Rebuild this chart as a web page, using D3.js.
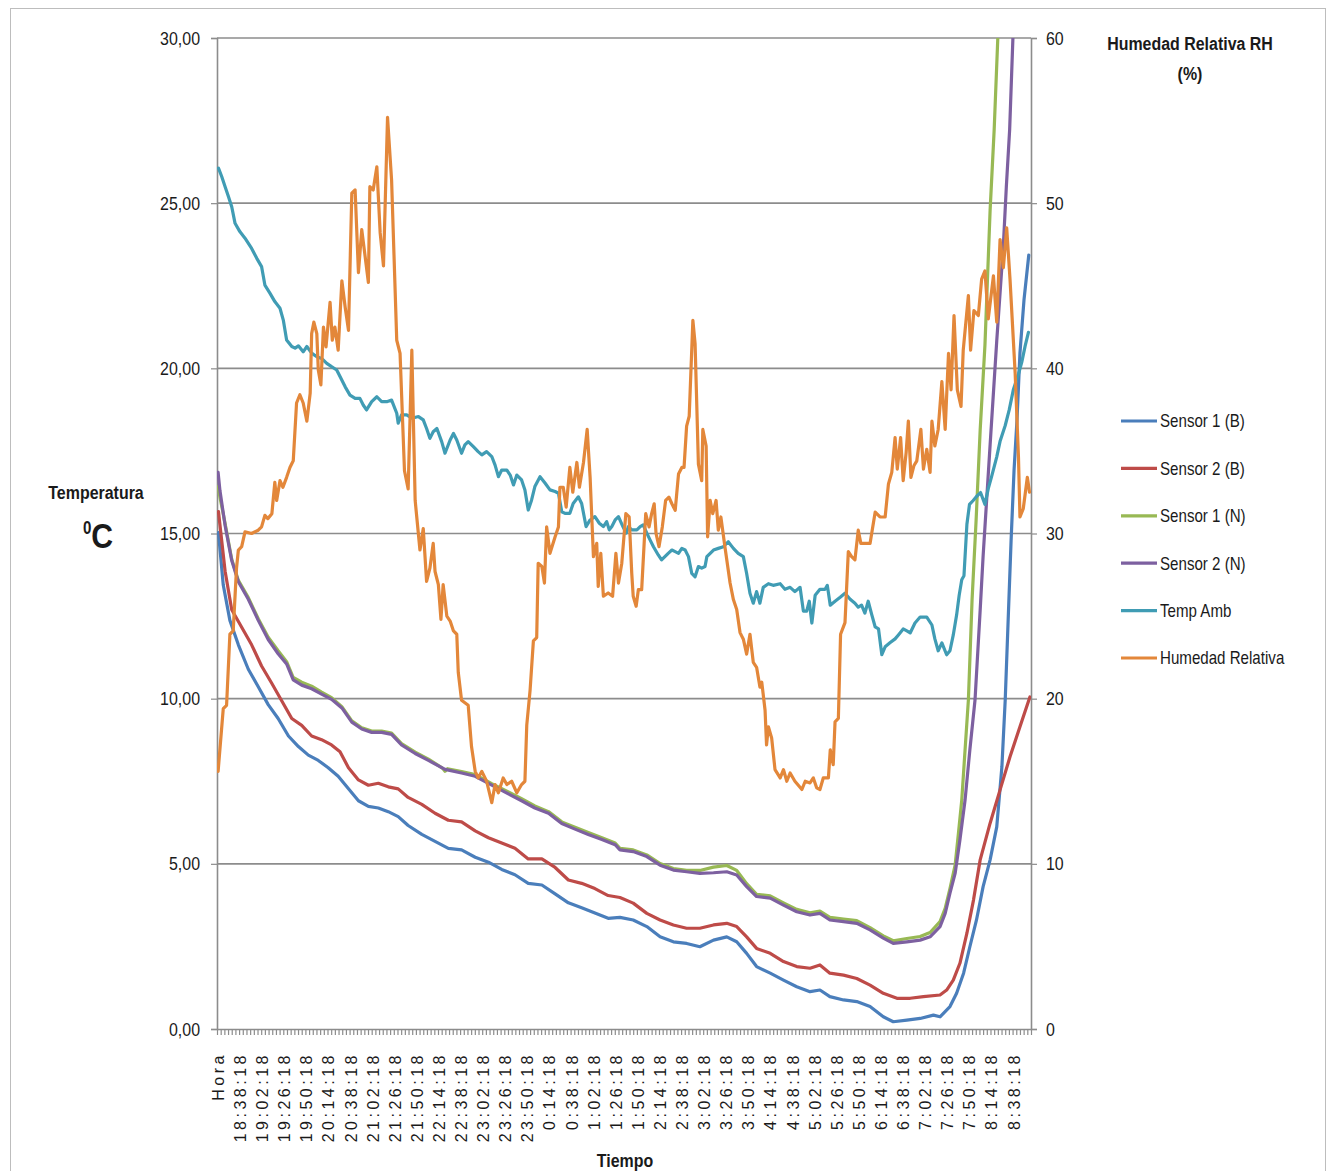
<!DOCTYPE html>
<html>
<head>
<meta charset="utf-8">
<script src="https://cdn.jsdelivr.net/npm/d3@7"></script>
<style>
  body { margin: 0; background: #ffffff; }
  text { font-family: "Liberation Sans", Arial, sans-serif; fill: #1a1a1a; }
</style>
</head>
<body>
<svg id="chart" width="1331" height="1171"></svg>
<script>
// Readings taken every 4 minutes; slot 0 is the "Hora" header column.
const sampleCount = 222;
const tickLabels = ["Hora","18:38:18","19:02:18","19:26:18","19:50:18","20:14:18","20:38:18","21:02:18",
  "21:26:18","21:50:18","22:14:18","22:38:18","23:02:18","23:26:18","23:50:18","0:14:18","0:38:18",
  "1:02:18","1:26:18","1:50:18","2:14:18","2:38:18","3:02:18","3:26:18","3:50:18","4:14:18","4:38:18",
  "5:02:18","5:26:18","5:50:18","6:14:18","6:38:18","7:02:18","7:26:18","7:50:18","8:14:18","8:38:18"];
const tickEvery = 6;
const tempTicks = [0, 5, 10, 15, 20, 25, 30];
const rhTicks = [0, 10, 20, 30, 40, 50, 60];

// Each series: [sample, value]
const sensor1B = [[0.4,15.03],[1.7,13.44],[3.5,12.37],[5.8,11.63],[8.5,10.89],[11.2,10.36],[13.9,9.82],[16.6,9.40],
  [19.4,8.87],[22.1,8.55],[24.8,8.29],[27.5,8.13],[30.2,7.91],[32.9,7.65],[35.7,7.27],[38.4,6.91],[41.1,6.74],
  [43.8,6.69],[46.5,6.58],[49.2,6.43],[51.9,6.16],[55.6,5.89],[59.2,5.68],[62.8,5.47],[66.4,5.42],[70.1,5.20],
  [73.7,5.05],[77.3,4.83],[80.9,4.67],[84.5,4.41],[88.2,4.36],[91.8,4.09],[95.4,3.82],[99.0,3.67],[102.6,3.51],
  [106.2,3.35],[109.4,3.38],[113.0,3.30],[116.7,3.10],[120.3,2.79],[123.9,2.64],[127.5,2.59],[131.1,2.49],
  [134.8,2.69],[138.4,2.79],[141.1,2.64],[143.8,2.29],[146.5,1.89],[150.2,1.69],[153.8,1.48],[157.4,1.28],
  [161.0,1.13],[163.7,1.18],[166.4,0.98],[170.1,0.88],[173.7,0.83],[177.3,0.68],[180.9,0.37],[183.6,0.22],
  [187.3,0.27],[190.9,0.32],[194.5,0.42],[196.3,0.37],[199.0,0.68],[200.8,1.08],[202.7,1.69],[204.4,2.49],
  [206.2,3.30],[208.0,4.31],[209.9,5.12],[211.7,6.12],[213.1,7.94],[214.0,9.96],[214.8,12.38],[215.6,14.80],
  [216.4,16.92],[217.2,18.44],[218.0,20.46],[219.1,22.07],[220.4,23.43]];

const sensor2B = [[0.4,15.66],[2.2,13.86],[4.0,12.69],[6.7,12.16],[9.4,11.63],[12.1,10.99],[14.9,10.46],[17.6,9.93],
  [20.3,9.40],[23.0,9.19],[25.7,8.87],[28.4,8.76],[31.1,8.60],[33.4,8.39],[35.7,7.91],[38.4,7.54],[41.1,7.38],
  [43.8,7.44],[46.5,7.33],[49.2,7.27],[51.9,7.01],[55.6,6.80],[59.2,6.53],[62.8,6.32],[66.4,6.27],[70.1,6.00],
  [73.7,5.79],[77.3,5.63],[80.9,5.47],[84.5,5.15],[88.2,5.15],[91.8,4.89],[95.4,4.51],[99.0,4.41],[102.6,4.25],
  [106.2,4.04],[109.4,3.98],[113.0,3.81],[116.7,3.50],[120.3,3.30],[123.9,3.15],[127.5,3.05],[131.1,3.05],
  [134.8,3.15],[138.4,3.20],[141.1,3.10],[143.8,2.79],[146.5,2.44],[150.2,2.29],[153.8,2.04],[157.4,1.89],
  [161.0,1.84],[163.7,1.94],[166.4,1.69],[170.1,1.63],[173.7,1.53],[177.3,1.33],[180.9,1.08],[184.6,0.93],
  [188.2,0.93],[191.8,0.98],[196.3,1.03],[198.1,1.18],[199.9,1.48],[201.7,1.99],[203.6,2.90],[205.4,3.91],
  [207.2,5.12],[209.9,6.23],[212.6,7.24],[215.3,8.24],[218.0,9.15],[220.7,10.05]];

const sensor1N = [[0.3,16.42],[0.8,16.10],[2.2,15.30],[4.0,14.22],[5.8,13.58],[8.5,13.06],[11.2,12.42],[13.9,11.86],
  [16.6,11.45],[18.9,11.12],[20.7,10.64],[23.0,10.50],[25.7,10.38],[28.4,10.20],[31.1,10.03],[33.9,9.76],
  [36.6,9.33],[39.3,9.12],[42.0,9.02],[44.7,9.02],[47.4,8.96],[50.1,8.64],[53.8,8.38],[57.4,8.17],[61.2,7.90],
  [61.9,7.80],[62.6,7.88],[66.4,7.79],[70.1,7.70],[74.6,7.43],[79.1,7.18],[82.7,6.97],[86.3,6.75],[90.0,6.58],
  [93.6,6.27],[97.2,6.11],[100.8,5.95],[104.5,5.79],[108.1,5.63],[109.4,5.47],[113.0,5.42],[116.7,5.27],
  [120.3,5.01],[123.9,4.86],[127.5,4.80],[131.1,4.80],[134.8,4.90],[138.4,4.95],[141.1,4.80],[143.8,4.40],
  [146.5,4.08],[150.2,4.03],[153.8,3.82],[157.4,3.62],[161.0,3.52],[163.7,3.57],[166.4,3.38],[170.1,3.33],
  [173.7,3.28],[177.3,3.07],[180.9,2.82],[183.6,2.67],[187.3,2.74],[190.9,2.80],[193.6,2.92],[196.3,3.25],
  [197.7,3.65],[199.0,4.25],[200.4,4.96],[201.3,5.93],[202.2,6.93],[203.1,8.45],[204.0,9.96],[205.0,12.99],
  [206.1,15.41],[207.2,18.13],[208.5,20.71],[209.9,24.79],[211.0,27.22],[212.0,30.03]];

const sensor2N = [[0.3,16.85],[0.8,16.30],[2.2,15.24],[4.0,14.18],[5.8,13.54],[8.5,13.01],[11.2,12.37],[13.9,11.79],
  [16.6,11.36],[18.9,11.05],[20.7,10.57],[23.0,10.41],[25.7,10.30],[28.4,10.14],[31.1,9.98],[33.9,9.72],
  [36.6,9.29],[39.3,9.08],[42.0,8.98],[44.7,8.98],[47.4,8.92],[50.1,8.60],[53.8,8.34],[57.4,8.13],[61.9,7.86],
  [66.4,7.75],[70.1,7.65],[74.6,7.38],[79.1,7.12],[82.7,6.91],[86.3,6.69],[90.0,6.53],[93.6,6.22],[97.2,6.05],
  [100.8,5.89],[104.5,5.74],[108.1,5.58],[109.4,5.42],[113.0,5.37],[116.7,5.22],[120.3,4.96],[123.9,4.81],
  [127.5,4.76],[131.1,4.71],[134.8,4.73],[138.4,4.76],[141.1,4.66],[143.8,4.31],[146.5,4.01],[150.2,3.96],
  [153.8,3.75],[157.4,3.55],[161.0,3.45],[163.7,3.50],[166.4,3.30],[170.1,3.25],[173.7,3.20],[177.3,3.00],
  [180.9,2.75],[183.6,2.59],[187.3,2.64],[190.9,2.69],[193.6,2.79],[196.3,3.10],[197.7,3.50],[199.0,4.11],
  [200.4,4.71],[201.7,5.72],[203.1,6.93],[204.4,8.45],[205.8,9.96],[207.2,12.68],[208.0,14.32],[209.9,17.68],
  [211.7,20.83],[213.5,23.73],[214.3,25.49],[215.2,27.22],[216.1,30.03]];

const tempAmb = [[0.4,26.06],[1.3,25.80],[2.2,25.50],[3.1,25.20],[4.0,24.89],[4.9,24.39],[6.2,24.14],[7.6,23.94],
  [9.4,23.63],[10.8,23.33],[12.1,23.08],[13.0,22.52],[14.4,22.27],[15.7,22.02],[17.1,21.82],[18.0,21.46],
  [18.9,20.86],[20.3,20.66],[21.2,20.61],[22.1,20.68],[23.4,20.50],[24.4,20.66],[25.7,20.46],[27.1,20.35],
  [28.4,20.30],[29.8,20.15],[31.1,20.05],[32.5,19.95],[33.4,19.75],[34.8,19.44],[36.1,19.19],[37.5,19.09],
  [38.8,19.09],[39.7,18.89],[40.6,18.74],[42.0,18.99],[43.4,19.14],[44.7,18.99],[46.1,18.99],[47.4,19.04],
  [48.8,18.64],[49.2,18.34],[50.1,18.59],[51.5,18.59],[52.9,18.49],[54.7,18.54],[56.0,18.44],[56.9,18.18],
  [57.8,17.88],[58.7,18.08],[59.7,18.18],[61.0,17.78],[61.9,17.43],[63.3,17.83],[64.2,18.03],[65.1,17.83],
  [66.4,17.43],[67.3,17.68],[68.2,17.78],[69.6,17.63],[70.9,17.48],[71.9,17.38],[73.2,17.48],[74.6,17.33],
  [75.5,17.07],[76.4,16.72],[77.3,16.92],[78.7,16.92],[79.6,16.77],[80.5,16.47],[81.4,16.77],[82.7,16.62],
  [83.6,16.32],[84.5,15.71],[85.4,16.01],[86.3,16.42],[87.7,16.72],[89.1,16.52],[90.4,16.32],[91.8,16.27],
  [92.7,16.22],[93.6,15.66],[94.5,15.61],[95.8,15.61],[96.7,15.91],[98.1,16.11],[99.0,15.91],[100.2,15.21],
  [101.3,15.41],[102.6,15.51],[103.8,15.31],[104.9,15.21],[105.8,15.36],[106.5,15.11],[107.2,15.21],
  [108.1,15.41],[109.0,15.51],[110.2,15.21],[111.1,15.01],[111.7,15.21],[112.6,15.11],[114.0,15.11],
  [114.9,15.21],[115.7,15.26],[116.7,15.01],[117.6,14.80],[118.5,14.60],[119.8,14.35],[120.7,14.20],
  [121.6,14.30],[122.5,14.40],[123.5,14.50],[124.4,14.45],[125.3,14.40],[126.2,14.55],[127.1,14.50],
  [128.0,14.30],[128.9,13.79],[129.8,13.69],[130.7,14.00],[131.6,13.95],[132.5,14.00],[133.0,14.30],
  [133.9,14.40],[134.8,14.50],[136.1,14.55],[137.5,14.60],[138.8,14.75],[140.2,14.55],[141.5,14.40],
  [142.9,14.30],[143.8,13.79],[144.7,13.19],[145.6,12.89],[146.5,13.24],[147.4,12.89],[148.3,13.37],
  [149.7,13.48],[151.0,13.43],[152.9,13.48],[154.2,13.31],[155.6,13.37],[156.9,13.24],[158.3,13.37],
  [159.2,12.65],[160.1,12.65],[160.8,12.95],[161.5,12.29],[162.4,13.13],[163.7,13.31],[165.1,13.31],
  [165.7,13.43],[166.5,12.83],[167.8,12.95],[169.2,13.07],[170.5,13.19],[171.9,13.01],[173.2,12.89],
  [174.1,12.77],[175.0,12.83],[175.9,12.59],[176.8,12.95],[177.8,12.53],[178.7,12.17],[179.6,12.11],
  [180.5,11.33],[181.4,11.57],[182.7,11.69],[184.1,11.81],[185.0,11.93],[186.3,12.11],[187.3,12.05],
  [188.2,11.99],[189.5,12.29],[190.9,12.47],[192.7,12.47],[194.1,12.23],[194.9,11.81],[195.8,11.45],
  [196.8,11.69],[198.1,11.33],[199.0,11.45],[199.9,11.93],[200.8,12.53],[201.5,13.13],[202.2,13.60],
  [202.8,13.72],[203.6,15.28],[204.3,15.88],[205.3,16.00],[206.2,16.12],[207.3,16.24],[208.5,15.88],
  [209.4,16.36],[210.3,16.72],[211.7,17.32],[212.6,17.79],[214.0,18.27],[215.1,18.75],[216.2,19.35],
  [217.6,19.83],[218.5,20.19],[219.4,20.67],[220.3,21.09]];

const humedad = [[0.3,15.6],[1.7,19.4],[2.6,19.6],[3.5,23.9],[4.4,24.1],[5.3,27.9],[5.8,29.0],[6.7,29.2],[7.6,30.1],
  [9.4,30.0],[11.2,30.2],[12.1,30.4],[13.0,31.1],[13.8,30.9],[14.9,31.2],[15.7,33.1],[16.2,32.0],[17.1,33.2],
  [17.9,32.8],[18.9,33.4],[19.8,34.0],[20.7,34.4],[21.6,37.9],[22.5,38.4],[23.4,37.9],[24.4,36.8],[25.3,38.5],
  [25.7,42.1],[26.3,42.8],[27.1,42.1],[27.5,39.9],[28.2,39.0],[28.9,42.5],[29.6,41.3],[30.7,44.0],[31.3,41.7],
  [32.0,42.5],[32.9,41.1],[33.9,45.3],[34.8,43.7],[35.7,42.3],[36.6,50.6],[37.5,50.8],[38.4,45.8],[39.3,48.4],
  [40.2,46.8],[41.1,45.2],[41.5,51.0],[42.4,50.8],[43.4,52.2],[44.3,48.2],[45.2,46.2],[46.3,55.2],[47.4,51.4],
  [48.8,41.7],[49.7,40.9],[50.9,33.8],[51.9,32.7],[52.9,41.1],[53.8,32.0],[55.1,29.0],[56.0,30.3],[56.9,27.1],
  [57.8,27.9],[58.7,29.4],[59.2,27.7],[60.1,26.9],[60.8,24.8],[61.4,26.9],[62.4,25.0],[63.3,24.7],[64.2,24.1],
  [65.1,23.9],[65.5,21.6],[66.4,19.9],[68.2,19.6],[69.1,17.1],[70.1,15.6],[70.9,15.2],[71.9,15.6],[73.2,15.0],
  [74.6,13.7],[75.5,14.8],[76.4,14.3],[77.7,15.2],[78.7,14.8],[80.0,15.0],[81.4,14.3],[82.7,14.8],[83.6,15.0],
  [84.1,18.4],[85.0,20.5],[85.9,23.5],[86.8,23.7],[87.2,28.2],[88.2,28.0],[88.9,27.0],[89.5,30.4],[90.4,28.8],
  [91.8,29.8],[92.7,30.4],[93.1,32.8],[94.0,32.8],[94.8,31.6],[95.8,34.0],[96.6,32.5],[97.7,34.3],[98.4,32.8],
  [99.5,34.3],[100.5,36.3],[101.3,33.4],[102.2,28.6],[103.1,29.4],[103.5,26.8],[104.2,28.8],[104.9,26.2],
  [106.2,26.4],[107.4,26.2],[108.3,28.8],[109.0,27.0],[109.9,28.2],[111.0,31.2],[111.9,31.0],[112.6,27.6],
  [113.0,26.2],[113.8,25.6],[114.4,26.6],[115.3,26.6],[116.4,31.2],[117.3,30.4],[118.0,31.2],[118.7,31.8],
  [119.2,30.0],[120.0,29.2],[120.9,30.4],[121.8,32.0],[122.7,32.2],[123.5,31.8],[124.4,31.4],[125.3,33.6],
  [126.2,34.0],[126.8,34.0],[127.5,36.5],[128.2,37.1],[129.2,42.9],[129.8,41.5],[130.7,34.2],[131.6,33.2],
  [131.9,36.3],[132.8,35.3],[133.2,29.8],[133.9,32.0],[134.6,31.2],[135.5,32.0],[136.1,30.2],[136.8,31.0],
  [137.9,29.2],[139.3,27.0],[140.2,26.0],[141.1,25.4],[142.0,24.0],[142.9,23.6],[143.8,22.7],[144.7,23.9],
  [145.6,22.2],[146.5,21.9],[147.4,20.7],[147.9,21.0],[148.8,19.3],[149.2,17.2],[149.7,18.3],[150.6,17.6],
  [151.5,15.7],[152.9,15.2],[153.8,15.7],[154.7,15.0],[155.6,15.5],[156.9,15.0],[158.8,14.5],[159.7,15.0],
  [161.0,14.9],[161.9,15.2],[162.8,14.6],[163.7,14.5],[164.6,15.2],[166.0,15.2],[166.5,16.9],[167.3,16.0],
  [167.8,18.6],[168.7,18.8],[169.3,23.9],[170.5,24.6],[171.4,28.9],[172.3,28.6],[173.2,28.4],[174.1,30.2],
  [174.8,29.4],[177.3,29.4],[178.7,31.3],[180.0,31.0],[181.4,31.0],[182.3,33.0],[183.2,33.7],[184.1,35.8],
  [184.7,33.9],[185.6,35.8],[186.3,33.2],[187.1,34.9],[187.7,36.8],[188.4,33.4],[189.2,34.1],[190.0,34.4],
  [191.1,36.3],[191.8,33.9],[192.7,35.1],[193.6,33.7],[194.1,36.8],[194.9,35.3],[195.8,36.3],[196.8,39.2],
  [197.7,36.3],[198.6,40.9],[199.3,38.7],[200.1,43.2],[201.0,38.7],[202.0,37.7],[202.6,41.1],[204.0,44.4],
  [204.6,41.1],[205.5,43.5],[206.7,43.2],[207.6,45.4],[208.5,45.9],[209.4,43.0],[210.8,45.6],[211.7,42.8],
  [212.6,47.8],[213.5,46.1],[214.4,48.5],[215.3,45.4],[216.7,39.7],[217.6,34.6],[218.0,31.0],[218.9,31.5],
  [220.0,33.4],[220.6,32.5]];

const series = [
  { name: "Sensor 1 (B)", data: sensor1B, color: "#4A7EBB", axis: "temp" },
  { name: "Sensor 2 (B)", data: sensor2B, color: "#BE4B48", axis: "temp" },
  { name: "Sensor 1 (N)", data: sensor1N, color: "#98B954", axis: "temp" },
  { name: "Sensor 2 (N)", data: sensor2N, color: "#7D60A0", axis: "temp" },
  { name: "Temp Amb", data: tempAmb, color: "#409CB4", axis: "temp" },
  { name: "Humedad Relativa", data: humedad, color: "#E3873A", axis: "rh" }
];

const plot = { left: 217, right: 1031, top: 38, bottom: 1029 };
const squeeze = 0.84;   // horizontal condensing for the narrow label face
const svg = d3.select("#chart");

// outer chart frame
svg.append("rect").attr("x", 10.5).attr("y", 8.5).attr("width", 1315).attr("height", 1175)
  .attr("fill", "none").attr("stroke", "#BDBDBD").attr("stroke-width", 1);

const x = d3.scaleLinear().domain([0, sampleCount - 1]).range([plot.left, plot.right]);
const yT = d3.scaleLinear().domain([0, 30]).range([plot.bottom, plot.top]);
const yH = d3.scaleLinear().domain([0, 60]).range([plot.bottom, plot.top]);

const comma = d3.formatLocale({ decimal: ",", thousands: ".", grouping: [3], currency: ["", "€"] });
const fmtTemp = comma.format(".2f");

// condensed text placed at (px, py)
function label(parent, px, py, str, size, anchor, bold) {
  return parent.append("text")
    .attr("transform", `translate(${px},${py}) scale(${squeeze},1)`)
    .attr("dy", "0.35em").attr("text-anchor", anchor)
    .attr("font-size", size).attr("font-weight", bold ? "bold" : "normal")
    .text(str);
}

// horizontal gridlines
svg.append("g").selectAll("line").data(tempTicks.slice(1)).join("line")
  .attr("x1", plot.left).attr("x2", plot.right)
  .attr("y1", d => yT(d)).attr("y2", d => yT(d))
  .attr("stroke", "#8C8C8C").attr("stroke-width", 1.6);

// left axis
const axL = svg.append("g").attr("transform", `translate(${plot.left},0)`)
  .call(d3.axisLeft(yT).tickValues(tempTicks).tickFormat(fmtTemp).tickSize(6).tickPadding(11));
// right axis
const axR = svg.append("g").attr("transform", `translate(${plot.right},0)`)
  .call(d3.axisRight(yH).tickValues(rhTicks).tickFormat(d3.format("d")).tickSize(6).tickPadding(9));
// bottom axis with a mark at every sample
const axB = svg.append("g").attr("transform", `translate(0,${plot.bottom})`)
  .call(d3.axisBottom(x).tickValues(d3.range(sampleCount)).tickFormat("").tickSize(6).tickSizeOuter(0));

[axL, axR, axB].forEach(g => {
  g.selectAll("path.domain").attr("stroke", "#8C8C8C").attr("stroke-width", 1.6);
  g.selectAll(".tick line").attr("stroke", "#8C8C8C").attr("stroke-width", 1.2);
  g.selectAll("text").attr("font-size", 19).attr("fill", "#1a1a1a").attr("font-family", null);
});
axL.selectAll(".tick text").attr("transform", `translate(-17,0) scale(${squeeze},1)`).attr("x", 0);
axR.selectAll(".tick text").attr("transform", `translate(15,0) scale(${squeeze},1)`).attr("x", 0).attr("dy", "0.32em");

// rotated time labels
svg.append("g").selectAll("text").data(tickLabels).join("text")
  .attr("transform", (d, i) => `translate(${x(i * tickEvery) + 1.5},1052) rotate(-90)`)
  .attr("text-anchor", "end").attr("dominant-baseline", "central")
  .attr("font-size", 16).attr("letter-spacing", "3.5px")
  .text(d => d);

// series lines, clipped to the plot area
svg.append("clipPath").attr("id", "plotClip").append("rect")
  .attr("x", plot.left).attr("y", plot.top).attr("width", plot.right - plot.left).attr("height", plot.bottom - plot.top);

const lines = svg.append("g").attr("clip-path", "url(#plotClip)");
series.forEach(s => {
  const y = s.axis === "rh" ? yH : yT;
  const line = d3.line().x(d => x(d[0])).y(d => y(d[1]));
  lines.append("path").datum(s.data).attr("d", line)
    .attr("fill", "none").attr("stroke", s.color).attr("stroke-width", 3.2)
    .attr("stroke-linejoin", "round").attr("stroke-linecap", "round");
});

// legend
const legend = svg.append("g");
series.forEach((s, i) => {
  const ly = 421 + i * 47.4;
  legend.append("line").attr("x1", 1121).attr("x2", 1157).attr("y1", ly).attr("y2", ly)
    .attr("stroke", s.color).attr("stroke-width", 3.2);
  label(legend, 1160, ly, s.name, 18, "start", false);
});

// axis titles
label(svg, 96, 492, "Temperatura", 19, "middle", true);
const unit = svg.append("text").attr("transform", `translate(98,548) scale(${squeeze},1)`)
  .attr("text-anchor", "middle").attr("font-weight", "bold");
unit.append("tspan").attr("font-size", 18).attr("dy", "-14").text("0");
unit.append("tspan").attr("font-size", 36).attr("dy", "14").text("C");

label(svg, 1190, 43, "Humedad Relativa RH", 19, "middle", true);
label(svg, 1190, 73, "(%)", 19, "middle", true);
label(svg, 625, 1160, "Tiempo", 19, "middle", true);
</script>
</body>
</html>
